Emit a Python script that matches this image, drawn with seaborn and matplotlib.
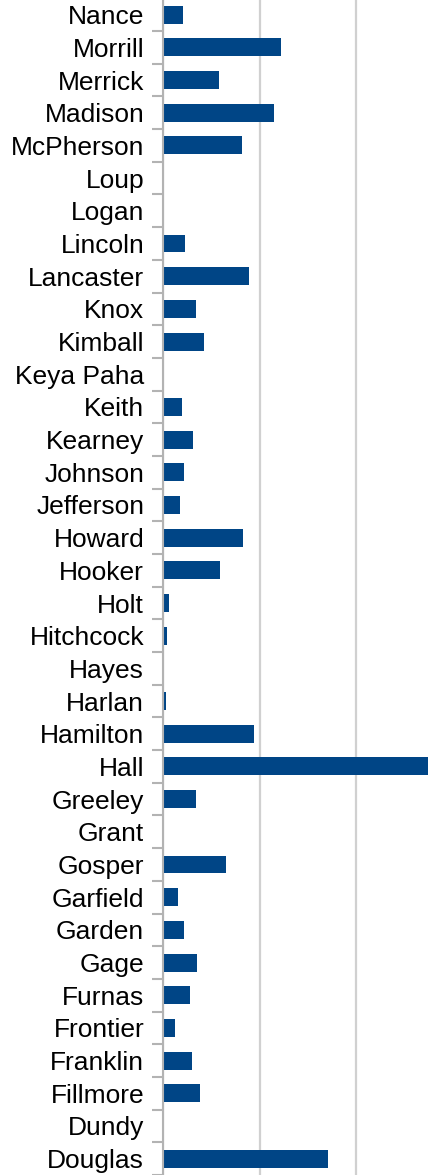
import pandas as pd
import seaborn as sns
import matplotlib.pyplot as plt
from matplotlib.ticker import FixedLocator, MultipleLocator

counties = ["Nance", "Morrill", "Merrick", "Madison", "McPherson", "Loup", "Logan",
            "Lincoln", "Lancaster", "Knox", "Kimball", "Keya Paha", "Keith", "Kearney",
            "Johnson", "Jefferson", "Howard", "Hooker", "Holt", "Hitchcock", "Hayes",
            "Harlan", "Hamilton", "Hall", "Greeley", "Grant", "Gosper", "Garfield",
            "Garden", "Gage", "Furnas", "Frontier", "Franklin", "Fillmore", "Dundy",
            "Douglas"]
values = [20.6, 121.6, 57.7, 114.4, 81.4, 0, 0,
          22.7, 88.9, 34.1, 42.4, 0, 19.6, 31,
          21.7, 17.6, 82.7, 58.9, 6.2, 4.1, 0,
          3.1, 93.8, 274, 34.1, 0, 65.1, 15.5,
          21.7, 35.2, 27.9, 12.4, 30, 38.1, 0,
          171]

df = pd.DataFrame({"county": counties, "value": values})

plt.rcParams["font.family"] = ["Liberation Sans", "DejaVu Sans"]

fig = plt.figure(figsize=(4.35, 11.75), dpi=100)
ax = fig.add_axes([163 / 435, 0, 1 - 163 / 435, 1])

sns.barplot(data=df, x="value", y="county", orient="h", color="#004586",
            saturation=1, width=0.55, ax=ax)

ax.set_xlim(0, 272 / 96.7 * 100)
ax.set_ylim(35.5, -0.45)
ax.xaxis.set_major_locator(MultipleLocator(100))
ax.grid(axis="x", color="#d0d0d0", linewidth=1.6)
ax.set_axisbelow(True)
ax.tick_params(axis="x", length=0, labelbottom=False)

# category separators as short ticks
ax.yaxis.set_minor_locator(FixedLocator([i + 0.5 for i in range(-1, len(counties))]))
ax.tick_params(axis="y", which="major", length=0, pad=13.5, labelsize=19)
ax.tick_params(axis="y", which="minor", length=8, width=1.5, color="#b3b3b3")
ax.set_xlabel("")
ax.set_ylabel("")

for side in ["top", "right", "bottom"]:
    ax.spines[side].set_visible(False)
ax.spines["left"].set_color("#b3b3b3")
ax.spines["left"].set_linewidth(1.5)

fig.savefig("out.png", dpi=100)
